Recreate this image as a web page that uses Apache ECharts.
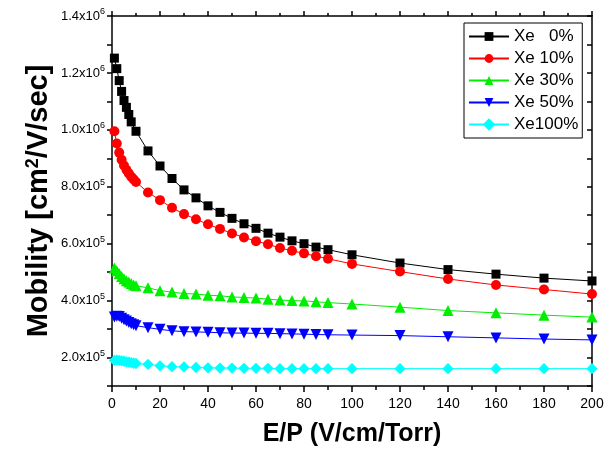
<!DOCTYPE html>
<html><head><meta charset="utf-8">
<script src="https://cdn.jsdelivr.net/npm/echarts@6/dist/echarts.min.js"></script>
<style>html,body{margin:0;padding:0;background:#fff}#c{width:616px;height:452px}</style>
</head><body><div id="c"></div>
<script>
// E/P values (V/cm/Torr)
const xDense = [1,2,3,4,5,6,7,8,9,10];
const xDense0 = [1,2,3,4,5,6,7,8,10];
const xMain = [15,20,25,30,35,40,45,50,55,60,65,70,75,80,85,90,100,120,140,160,180,200];
// Mobility values in units of 1e6 cm^2/V/sec
const xe0Dense   = [1.252,1.215,1.173,1.135,1.103,1.079,1.054,1.028,0.995];
const xe0Main    = [0.926,0.873,0.829,0.789,0.761,0.733,0.710,0.689,0.670,0.654,0.637,0.623,0.610,0.600,0.588,0.579,0.561,0.532,0.509,0.493,0.479,0.469];
const xe10Dense  = [0.995,0.952,0.920,0.895,0.875,0.860,0.847,0.835,0.826,0.817];
const xe10Main   = [0.780,0.753,0.726,0.704,0.686,0.668,0.652,0.636,0.622,0.609,0.598,0.585,0.575,0.566,0.556,0.547,0.529,0.502,0.476,0.455,0.439,0.423];
const xe30Dense  = [0.515,0.505,0.495,0.485,0.477,0.470,0.465,0.460,0.455,0.452];
const xe30Main   = [0.445,0.435,0.430,0.425,0.423,0.419,0.417,0.413,0.411,0.409,0.405,0.402,0.400,0.399,0.396,0.393,0.388,0.377,0.365,0.357,0.349,0.342];
const xe50Dense  = [0.342,0.345,0.344,0.338,0.333,0.328,0.323,0.319,0.315,0.312];
const xe50Main   = [0.305,0.299,0.294,0.291,0.290,0.289,0.287,0.286,0.286,0.285,0.285,0.284,0.283,0.282,0.281,0.280,0.279,0.277,0.273,0.269,0.265,0.262];
const xe100Dense = [0.190,0.191,0.190,0.188,0.187,0.185,0.184,0.182,0.180,0.179];
const xe100Main  = [0.176,0.171,0.168,0.167,0.165,0.164,0.163,0.163,0.162,0.162,0.162,0.161,0.161,0.161,0.161,0.161,0.161,0.161,0.161,0.161,0.161,0.161];
const seriesNames = ['Xe   0%','Xe 10%','Xe 30%','Xe 50%','Xe100%'];
const yTickLabels = ['2.0x10|5','4.0x10|5','6.0x10|5','8.0x10|5','1.0x10|6','1.2x10|6','1.4x10|6'];

function pts(xd, yd, xm, ym){
  const xs = xd.concat(xm), ys = yd.concat(ym);
  return xs.map((x,i)=>[x, ys[i]*1e6]);
}
const styles = [
  {color:'#000000', symbol:'rect', size:9, rot:0},
  {color:'#ff0000', symbol:'circle', size:10, rot:0},
  {color:'#00ee00', symbol:'triangle', size:11, rot:0},
  {color:'#0000ff', symbol:'triangle', size:11, rot:180},
  {color:'#00ffff', symbol:'rect', size:8, rot:45}
];
const datas = [
  pts(xDense0, xe0Dense, xMain, xe0Main),
  pts(xDense, xe10Dense, xMain, xe10Main),
  pts(xDense, xe30Dense, xMain, xe30Main),
  pts(xDense, xe50Dense, xMain, xe50Main),
  pts(xDense, xe100Dense, xMain, xe100Main)
];
const labelMap = {};
yTickLabels.forEach((s,i)=>{ labelMap[(i+1)*2e5] = s; });

const chart = echarts.init(document.getElementById('c'), null, {renderer:'canvas'});
const font = 'Liberation Sans, Arial, sans-serif';
chart.setOption({
  animation:false,
  backgroundColor:'#fff',
  grid:{left:112, right:24, top:16, bottom:64},
  legend:{
    left:464, top:23, orient:'vertical',
    itemWidth:40, itemHeight:11, itemGap:5,
    padding:[5,4,5,4],
    borderColor:'#000', borderWidth:1,
    textStyle:{fontFamily:font, fontSize:17, color:'#000'},
    data:seriesNames
  },
  xAxis:[{
    type:'value', min:0, max:200, interval:20,
    name:'E/P (V/cm/Torr)', nameLocation:'middle', nameGap:36, nameMoveOverlap:false,
    nameTextStyle:{fontFamily:font, fontSize:25, fontWeight:'bold', color:'#000'},
    axisLine:{show:true, onZero:false, lineStyle:{color:'#000', width:1.5}},
    axisTick:{show:true, length:6, lineStyle:{color:'#000', width:1.5}},
    minorTick:{show:true, splitNumber:2, length:4, lineStyle:{color:'#000', width:1.5}},
    axisLabel:{fontFamily:font, fontSize:14, color:'#000', margin:11},
    splitLine:{show:false}
  },{
    type:'value', min:0, max:200, interval:20, position:'top',
    axisLine:{show:true, onZero:false, lineStyle:{color:'#000', width:1.5}},
    axisTick:{show:true, length:5, lineStyle:{color:'#000', width:1.5}},
    minorTick:{show:true, splitNumber:2, length:3, lineStyle:{color:'#000', width:1.5}},
    axisLabel:{show:false}, splitLine:{show:false}
  }],
  yAxis:[{
    type:'value', min:1e5, max:1.4e6, interval:1e5,
    name:'{t|Mobility [cm}{s|2}{t|/V/sec]}', nameLocation:'middle', nameGap:58, nameRotate:90,
    nameMoveOverlap:false,
    nameTextStyle:{rich:{
      t:{fontFamily:font, fontSize:29, fontWeight:'bold', color:'#000'},
      s:{fontFamily:font, fontSize:18, fontWeight:'bold', color:'#000', verticalAlign:'bottom', padding:[0,0,12,0]}
    }},
    axisLine:{show:true, onZero:false, lineStyle:{color:'#000', width:1.5}},
    axisTick:{show:true, length:5, lineStyle:{color:'#000', width:1.5}},
    axisLabel:{
      margin:7,
      formatter:function(v){
        const s = labelMap[Math.round(v)];
        if(!s) return '';
        const p = s.split('|');
        return '{m|'+p[0]+'}{e|'+p[1]+'}';
      },
      rich:{
        m:{fontFamily:font, fontSize:13, color:'#000'},
        e:{fontFamily:font, fontSize:9, color:'#000', verticalAlign:'bottom', padding:[0,0,8,0]}
      }
    },
    splitLine:{show:false}
  },{
    type:'value', min:1e5, max:1.4e6, interval:1e5, position:'right',
    axisLine:{show:true, onZero:false, lineStyle:{color:'#000', width:1.5}},
    axisTick:{show:true, inside:true, length:5, lineStyle:{color:'#000', width:1.5}},
    axisLabel:{show:false}, splitLine:{show:false}
  }],
  series: seriesNames.map((n,i)=>({
    name:n, type:'line', data:datas[i],
    symbol:styles[i].symbol, symbolSize:styles[i].size, symbolRotate:styles[i].rot,
    showAllSymbol:true,
    lineStyle:{color:styles[i].color, width:1},
    itemStyle:{color:styles[i].color, borderWidth:0},
    emphasis:{disabled:true}
  }))
});
</script></body></html>
